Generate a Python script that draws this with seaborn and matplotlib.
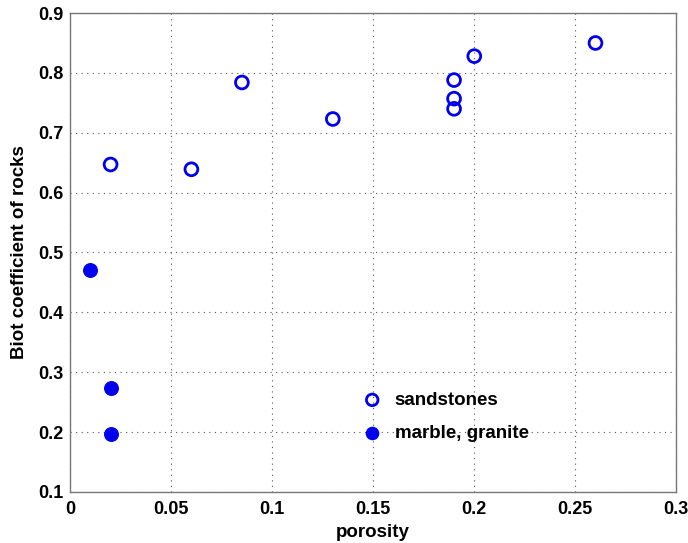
import matplotlib
matplotlib.use("Agg")
import matplotlib.pyplot as plt
import seaborn as sns
import pandas as pd

sand_porosity = [0.02, 0.06, 0.085, 0.13, 0.19, 0.19, 0.19, 0.20, 0.26]
sand_biot = [0.647, 0.639, 0.784, 0.723, 0.788, 0.757, 0.740, 0.828, 0.850]
hard_porosity = [0.01, 0.02, 0.02]
hard_biot = [0.470, 0.273, 0.197]
x_ticks = [0, 0.05, 0.1, 0.15, 0.2, 0.25, 0.3]
x_tick_labels = ["0", "0.05", "0.1", "0.15", "0.2", "0.25", "0.3"]
y_ticks = [0.1, 0.2, 0.3, 0.4, 0.5, 0.6, 0.7, 0.8, 0.9]
y_tick_labels = ["0.1", "0.2", "0.3", "0.4", "0.5", "0.6", "0.7", "0.8", "0.9"]

sns.set_style("white", {"text.color": "black", "axes.labelcolor": "black",
                        "xtick.color": "black", "ytick.color": "black"})
plt.rcParams['font.family'] = ['Liberation Sans', 'DejaVu Sans']

fig = plt.figure(figsize=(6.88, 5.43), dpi=100)
ax = fig.add_axes([0.102, 0.094, 0.881, 0.882])

sand = pd.DataFrame({"porosity": sand_porosity, "biot": sand_biot})
hard = pd.DataFrame({"porosity": hard_porosity, "biot": hard_biot})

sns.scatterplot(data=sand, x="porosity", y="biot", ax=ax, marker="o",
                s=85, facecolors="none", edgecolor="#0000ee", linewidth=2,
                label="sandstones", zorder=3)
sns.scatterplot(data=hard, x="porosity", y="biot", ax=ax, marker="o",
                s=95, color="#0000ee", edgecolor="#0000ee", linewidth=1,
                label="marble, granite", zorder=3)

ax.set_xlim(0, 0.3)
ax.set_ylim(0.1, 0.9)
ax.set_xticks(x_ticks)
ax.set_xticklabels(x_tick_labels)
ax.set_yticks(y_ticks)
ax.set_yticklabels(y_tick_labels)
ax.grid(True, linestyle=(0, (1, 4)), color="#555555", linewidth=0.8)
for s in ax.spines.values():
    s.set_color("#777777")
    s.set_linewidth(1.0)
ax.tick_params(axis="both", direction="in", length=3, labelsize=13,
               color="#777777", labelcolor="black")
ax.tick_params(axis="x", pad=6.5)
ax.tick_params(axis="y", pad=5)
for lab in ax.get_xticklabels() + ax.get_yticklabels():
    lab.set_fontweight("bold")
ax.set_xlabel("porosity", fontsize=13.5, fontweight="bold", labelpad=4, color="black")
ax.set_ylabel("Biot coefficient of rocks", fontsize=13.5, fontweight="bold",
              labelpad=7, color="black")

leg = ax.legend(loc="center left", bbox_to_anchor=(0.455, 0.157), frameon=False,
                fontsize=13.5, handlelength=1.0, handletextpad=0.7,
                labelspacing=0.85, markerscale=0.9)
for t in leg.get_texts():
    t.set_fontweight("bold")
    t.set_color("black")

fig.savefig("out.png", dpi=100)
